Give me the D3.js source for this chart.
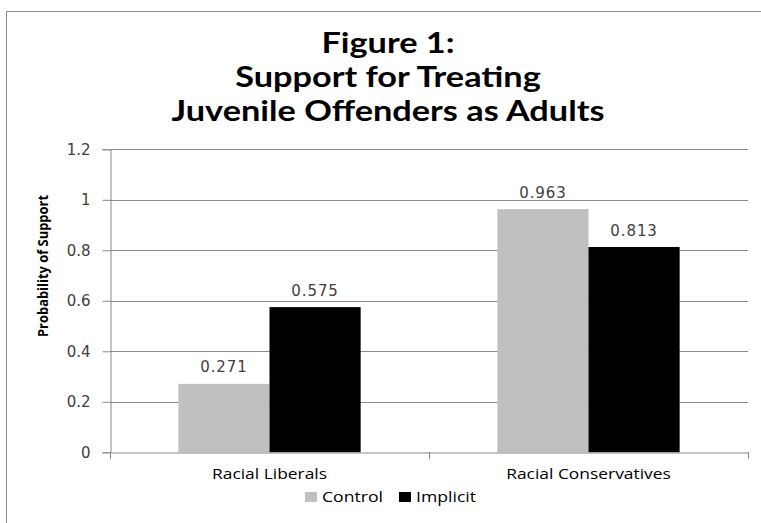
<!DOCTYPE html>
<html><head><meta charset="utf-8">
<script src="https://cdn.jsdelivr.net/npm/d3@7"></script>
<style>body{margin:0;background:#fff}svg{display:block}</style>
</head><body>
<script>
const categories = ["Racial Liberals", "Racial Conservatives"];
const seriesNames = ["Control", "Implicit"];
const controlValues = [0.271, 0.963];
const implicitValues = [0.575, 0.813];
const yTicks = [0, 0.2, 0.4, 0.6, 0.8, 1, 1.2];
const titleLines = ["Figure 1:", "Support for Treating", "Juvenile Offenders as Adults"];
const yTitle = "Probability of Support";
const colors = ["#C0C0C0", "#000000"];

const W = 761, H = 523;
const svg = d3.select("body").append("svg").attr("width", W).attr("height", H);

// horizontally stretch a text selection so that a reference element gets a target width
function stretch(sel, refWidth, refNode) {
  const f = refWidth / refNode.getComputedTextLength();
  sel.each(function () {
    const w = this.getComputedTextLength();
    d3.select(this).attr("textLength", w * f).attr("lengthAdjust", "spacingAndGlyphs");
  });
}

// outer frame
svg.append("rect").attr("x", 6.5).attr("y", 11.5).attr("width", 800).attr("height", 600)
  .attr("fill", "none").attr("stroke", "#8c8c8c").attr("stroke-width", 1);

// title
const titleSel = svg.append("g").selectAll("text").data(titleLines).join("text")
  .attr("text-anchor", "middle").attr("x", 388).attr("y", (d, i) => 53 + i * 34)
  .attr("font-family", "Lato, 'Open Sans', sans-serif").attr("font-weight", "bold")
  .attr("font-size", 29).attr("fill", "#000").text(d => d);
stretch(titleSel, 433, titleSel.nodes()[2]);

const plot = {left: 110, right: 748, top: 149.3, bottom: 452.3};
const y = d3.scaleLinear().domain([0, 1.2]).range([plot.bottom, plot.top]);
const x0 = d3.scaleBand().domain(categories).range([plot.left, plot.right]).padding(0);
const bw = x0.bandwidth();
const gapFrac = 0.75 / 3.5;
const x1 = d3.scaleBand().domain(seriesNames).range([bw * gapFrac, bw * (1 - gapFrac)]).padding(0);

// gridlines
svg.append("g").selectAll("line").data(yTicks.filter(d => d > 0)).join("line")
  .attr("x1", plot.left).attr("x2", plot.right)
  .attr("y1", d => Math.round(y(d)) + 0.5).attr("y2", d => Math.round(y(d)) + 0.5)
  .attr("stroke", "#8a8a8a").attr("stroke-width", 1);

// y axis
const yAxis = d3.axisLeft(y).tickValues(yTicks).tickSize(8).tickPadding(12)
  .tickFormat(d => d3.format("~g")(d));
const gy = svg.append("g").attr("transform", `translate(${plot.left + 0.5},0)`).call(yAxis);
gy.select(".domain").attr("stroke", "#8a8a8a");
gy.selectAll(".tick line").attr("stroke", "#8a8a8a");
gy.selectAll(".tick text").attr("font-family", "'DejaVu Sans', Verdana, sans-serif")
  .attr("font-size", 15).attr("fill", "#404040");

// bars
const data = categories.map((c, i) => ({cat: c, vals: [controlValues[i], implicitValues[i]]}));
const groups = svg.append("g").selectAll("g").data(data).join("g")
  .attr("transform", d => `translate(${x0(d.cat)},0)`);
groups.selectAll("rect").data(d => d.vals.map((v, j) => ({s: seriesNames[j], v, j}))).join("rect")
  .attr("x", d => x1(d.s)).attr("width", x1.bandwidth())
  .attr("y", d => y(d.v)).attr("height", d => y(0) - y(d.v))
  .attr("fill", d => colors[d.j]);
groups.selectAll("text").data(d => d.vals.map((v, j) => ({s: seriesNames[j], v, j}))).join("text")
  .attr("x", d => x1(d.s) + x1.bandwidth() / 2).attr("y", d => y(d.v) - 11.5)
  .attr("text-anchor", "middle").attr("font-family", "'DejaVu Sans', Verdana, sans-serif")
  .attr("font-size", 15).attr("fill", "#404040").attr("letter-spacing", 0.9)
  .text(d => d3.format(".3f")(d.v));

// x axis
const xAxis = d3.axisBottom(x0).tickSize(0).tickPadding(0);
const gx = svg.append("g").attr("transform", `translate(0,${Math.round(plot.bottom) + 0.5})`).call(xAxis);
gx.select(".domain").attr("stroke", "#8a8a8a");
const catText = gx.selectAll(".tick text").attr("font-family", "'Open Sans', sans-serif")
  .attr("font-size", 14).attr("fill", "#000").attr("dy", null).attr("y", 26);
stretch(catText, 115, catText.nodes()[0]);
// category boundary ticks
const bounds = [plot.left, x0(categories[1]), plot.right];
svg.append("g").selectAll("line").data(bounds).join("line")
  .attr("x1", d => Math.round(d) + 0.5).attr("x2", d => Math.round(d) + 0.5)
  .attr("y1", Math.round(plot.bottom)).attr("y2", Math.round(plot.bottom) + 7)
  .attr("stroke", "#8a8a8a");

// y title
svg.append("text").attr("transform", "translate(48,266) rotate(-90)")
  .attr("text-anchor", "middle").attr("font-family", "'Liberation Sans Narrow', 'Open Sans', sans-serif")
  .attr("font-weight", "bold").attr("font-size", 15).attr("fill", "#000")
  .attr("textLength", 142).attr("lengthAdjust", "spacingAndGlyphs").text(yTitle);

// legend
const legendItems = [{name: seriesNames[0], x: 305, c: colors[0]}, {name: seriesNames[1], x: 399, c: colors[1]}];
const lg = svg.append("g").selectAll("g").data(legendItems).join("g")
  .attr("transform", d => `translate(${d.x},0)`);
lg.append("rect").attr("x", 0).attr("y", 492).attr("width", 12).attr("height", 10).attr("fill", d => d.c);
const legText = lg.append("text").attr("x", 17).attr("y", 502).attr("font-family", "'Open Sans', sans-serif")
  .attr("font-size", 14).attr("fill", "#000").text(d => d.name);
stretch(legText, 61, legText.nodes()[0]);
</script>
</body></html>
